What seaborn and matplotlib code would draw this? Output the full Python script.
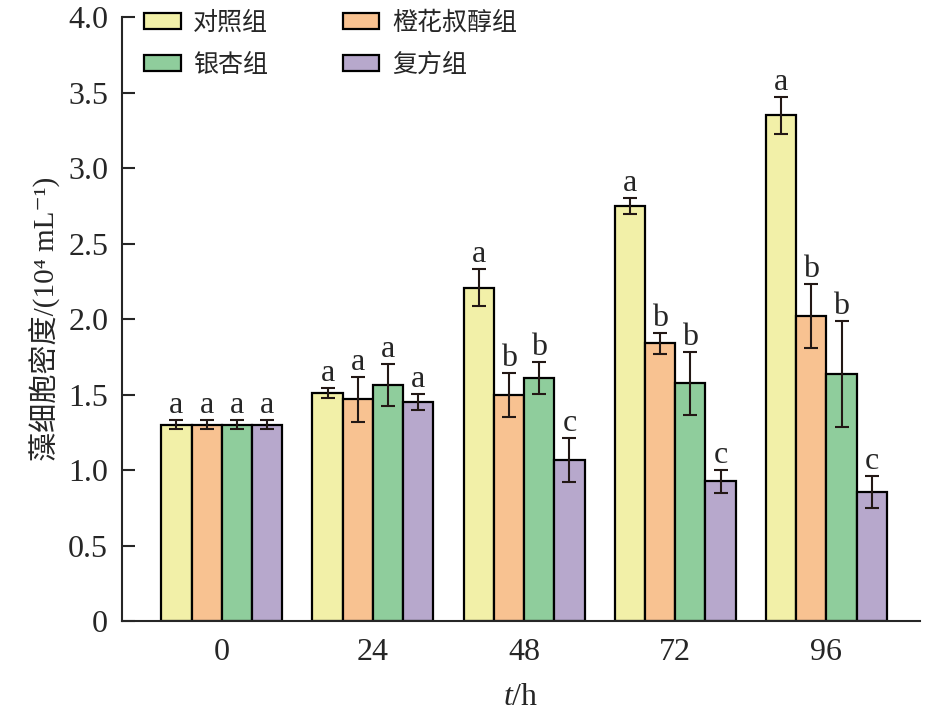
import matplotlib
matplotlib.use("Agg")
import matplotlib.pyplot as plt
import pandas as pd
import seaborn as sns

# 数据
times = ["0", "24", "48", "72", "96"]
groups = ["对照组", "橙花叔醇组", "银杏组", "复方组"]

control = [1.30, 1.51, 2.21, 2.75, 3.35]
control_err = [0.03, 0.035, 0.12, 0.055, 0.12]
nerolidol = [1.30, 1.47, 1.50, 1.84, 2.02]
nerolidol_err = [0.03, 0.148, 0.145, 0.07, 0.21]
ginkgo = [1.30, 1.565, 1.61, 1.575, 1.635]
ginkgo_err = [0.03, 0.137, 0.105, 0.21, 0.35]
compound = [1.30, 1.45, 1.065, 0.925, 0.855]
compound_err = [0.03, 0.053, 0.145, 0.077, 0.105]

letters_control = ["a", "a", "a", "a", "a"]
letters_nerolidol = ["a", "a", "b", "b", "b"]
letters_ginkgo = ["a", "a", "b", "b", "b"]
letters_compound = ["a", "a", "c", "c", "c"]

colors = ["#F2F0A8", "#F8C291", "#8FCD9C", "#B7A8CC"]

values = [control, nerolidol, ginkgo, compound]
errors = [control_err, nerolidol_err, ginkgo_err, compound_err]
letters = [letters_control, letters_nerolidol, letters_ginkgo, letters_compound]

rows = []
for g, vals in zip(groups, values):
    for t, v in zip(times, vals):
        rows.append({"time": t, "group": g, "value": v})
df = pd.DataFrame(rows)

sns.set_style("ticks")
plt.rcParams["font.family"] = ["Liberation Serif", "Noto Sans CJK SC", "DejaVu Sans"]
plt.rcParams["mathtext.fontset"] = "custom"
plt.rcParams["mathtext.rm"] = "Liberation Serif"
plt.rcParams["mathtext.it"] = "Liberation Serif:italic"

fig = plt.figure(figsize=(9.28, 7.23), dpi=100)
ax = fig.add_axes([0.1315, 0.141, 0.86, 0.835])

sns.barplot(data=df, x="time", y="value", hue="group", order=times,
            hue_order=groups, palette=colors, saturation=1, errorbar=None,
            width=0.8, edgecolor="black", linewidth=1.6, ax=ax)

err_color = "#231815"
for cont, errs, labs in zip(ax.containers, errors, letters):
    for bar, e, lab in zip(cont, errs, labs):
        xc = bar.get_x() + bar.get_width() / 2
        h = bar.get_height()
        ax.errorbar(xc, h, yerr=e, fmt="none", ecolor=err_color,
                    elinewidth=1.5, capsize=5, capthick=1.5, zorder=5)
        ax.annotate(lab, (xc, h + e), xytext=(0, 0), textcoords="offset points",
                    ha="center", va="bottom", fontsize=23)

ax.set_ylim(0, 4.0)
ax.set_xlim(-0.66, 4.62)
ax.set_yticks([0, 0.5, 1.0, 1.5, 2.0, 2.5, 3.0, 3.5, 4.0])
ax.set_yticklabels(["0", "0.5", "1.0", "1.5", "2.0", "2.5", "3.0", "3.5", "4.0"])
ax.tick_params(axis="y", direction="in", length=9, width=1.5, pad=10, labelsize=23)
ax.tick_params(axis="x", length=0, pad=12, labelsize=23)
for side in ["top", "right"]:
    ax.spines[side].set_visible(False)
for side in ["left", "bottom"]:
    ax.spines[side].set_linewidth(1.5)

ax.set_xlabel("$\\mathit{t}$/h", fontsize=23, labelpad=12)
ax.set_ylabel("藻细胞密度/(10⁴ mL⁻¹)", fontsize=21, labelpad=6)

handles, labels_ = ax.get_legend_handles_labels()
order = [0, 2, 1, 3]
ax.legend([handles[i] for i in order], [labels_[i] for i in order],
          ncol=2, frameon=False, loc="upper left", bbox_to_anchor=(0.028, 1.01),
          fontsize=18, handlelength=1.45, handleheight=0.6, handletextpad=0.5,
          columnspacing=3.0, labelspacing=0.75, borderpad=0, borderaxespad=0)

fig.savefig("out.png", dpi=100)
